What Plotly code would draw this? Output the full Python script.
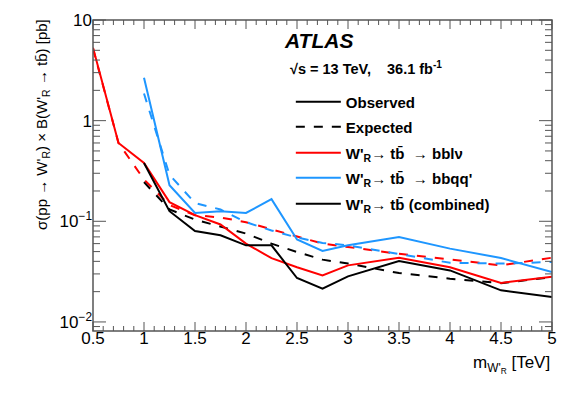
import math
import plotly.graph_objects as go

MASS = [0.5, 0.75, 1.0, 1.25, 1.5, 1.75, 2.0, 2.25, 2.5, 2.75, 3.0, 3.5, 4.0, 4.5, 5.0]
MASS_HAD = MASS[2:]

# W'R -> tb -> bblv (leptonic)
LEP_OBS = [5.3, 0.60, 0.38, 0.155, 0.115, 0.093, 0.060, 0.043, 0.035, 0.029, 0.0365, 0.0435, 0.035, 0.0244, 0.0281]
LEP_EXP = [5.2, 0.60, 0.26, 0.145, 0.115, 0.109, 0.098, 0.083, 0.071, 0.060, 0.0555, 0.0475, 0.0418, 0.0365, 0.0435]
# W'R -> tb -> bbqq' (hadronic)
HAD_OBS = [2.67, 0.228, 0.121, 0.126, 0.121, 0.166, 0.066, 0.0507, 0.0577, 0.0699, 0.0535, 0.0432, 0.0313]
HAD_EXP = [1.86, 0.29, 0.152, 0.131, 0.098, 0.081, 0.069, 0.061, 0.0577, 0.047, 0.0387, 0.038, 0.0394]
# combined
COMB_OBS = [0.38, 0.126, 0.080, 0.0726, 0.0577, 0.0577, 0.0273, 0.0214, 0.0284, 0.0403, 0.0325, 0.0206, 0.0177]
COMB_EXP = [0.245, 0.131, 0.104, 0.089, 0.0755, 0.060, 0.0495, 0.0416, 0.038, 0.0306, 0.0269, 0.0243, 0.0278]

X_RANGE = [0.5, 5]
Y_RANGE = [-2.09, 1]  # log10
Y_MAJOR = [0.01, 0.1, 1, 10]
Y_MAJOR_TXT = ['10<sup>−2</sup>', '10<sup>−1</sup>', '1', '10']
Y_MINOR = [m * 10 ** e for e in (-3, -2, -1, 0) for m in range(2, 10)]
X_MAJOR = [0.5, 1, 1.5, 2, 2.5, 3, 3.5, 4, 4.5, 5]
X_MINOR = [round(0.5 + 0.1 * i, 1) for i in range(46) if i % 5]

LEGEND_ROWS = [102, 127, 153, 178, 204]  # pixel rows of the legend entries

RED = '#ff0000'
BLUE = '#1e96ff'
BLACK = '#000000'
GREY = '#555555'
FONT = 'Liberation Sans, Arial, sans-serif'
W, H = 581, 395
ML, MR, MT, MB = 93, 29, 20, 64
PW, PH = W - ML - MR, H - MT - MB

fig = go.Figure()

# dummy legend entries
fig.add_trace(go.Scatter(x=[None], y=[None], mode='lines', name='<b>Observed</b>',
                         line=dict(color=BLACK, width=2), legend='legend'))
fig.add_trace(go.Scatter(x=[None], y=[None], mode='lines', name='<b>Expected</b>',
                         line=dict(color=BLACK, width=2, dash='dash'), legend='legend2'))

fig.add_trace(go.Scatter(x=MASS, y=LEP_EXP, mode='lines', showlegend=False,
                         line=dict(color=RED, width=2, dash='dash')))
fig.add_trace(go.Scatter(x=MASS_HAD, y=HAD_EXP, mode='lines', showlegend=False,
                         line=dict(color=BLUE, width=2, dash='dash')))
fig.add_trace(go.Scatter(x=MASS_HAD, y=COMB_EXP, mode='lines', showlegend=False,
                         line=dict(color=BLACK, width=2, dash='dash')))

fig.add_trace(go.Scatter(x=MASS, y=LEP_OBS, mode='lines', legend='legend3',
                         name="<b>W'<sub>R</sub>→ tb̄  → bblν</b>",
                         line=dict(color=RED, width=2)))
fig.add_trace(go.Scatter(x=MASS_HAD, y=HAD_OBS, mode='lines', legend='legend4',
                         name="<b>W'<sub>R</sub>→ tb̄  → bbqq'</b>",
                         line=dict(color=BLUE, width=2)))
fig.add_trace(go.Scatter(x=MASS_HAD, y=COMB_OBS, mode='lines', legend='legend5',
                         name="<b>W'<sub>R</sub>→ tb̄ (combined)</b>",
                         line=dict(color=BLACK, width=2)))

fig.update_xaxes(range=X_RANGE, tickmode='array', tickvals=X_MAJOR,
                 ticktext=[f'{v:g}' for v in X_MAJOR], ticks='', showline=False,
                 showgrid=False, zeroline=False, ticklabelstandoff=-5,
                 tickfont=dict(size=17, color='black', family=FONT))
fig.update_yaxes(type='log', range=Y_RANGE, tickmode='array', tickvals=Y_MAJOR,
                 ticktext=Y_MAJOR_TXT, ticks='', showline=False, showgrid=False,
                 zeroline=False, tickfont=dict(size=17, color='black', family=FONT))

# frame and inside ticks (mirrored) drawn as paper shapes
line_style = dict(color=GREY, width=1.5)
tick_style = dict(color=GREY, width=1)
shapes = [dict(type='rect', xref='paper', yref='paper', x0=0, x1=1, y0=0, y1=1,
               line=line_style, layer='above')]


def xfrac(v):
    return (v - X_RANGE[0]) / (X_RANGE[1] - X_RANGE[0])


def yfrac(v):
    return (math.log10(v) - Y_RANGE[0]) / (Y_RANGE[1] - Y_RANGE[0])


for vals, ln in ((X_MAJOR, 9), (X_MINOR, 5)):
    for v in vals:
        f = xfrac(v)
        shapes.append(dict(type='line', xref='paper', yref='paper', x0=f, x1=f,
                           y0=0, y1=ln / PH, line=tick_style, layer='above'))
        shapes.append(dict(type='line', xref='paper', yref='paper', x0=f, x1=f,
                           y0=1, y1=1 - ln / PH, line=tick_style, layer='above'))
for vals, ln in ((Y_MAJOR, 13), (Y_MINOR, 7)):
    for v in vals:
        f = yfrac(v)
        if f < 0 or f > 1:
            continue
        shapes.append(dict(type='line', xref='paper', yref='paper', y0=f, y1=f,
                           x0=0, x1=ln / PW, line=tick_style, layer='above'))
        shapes.append(dict(type='line', xref='paper', yref='paper', y0=f, y1=f,
                           x0=1, x1=1 - ln / PW, line=tick_style, layer='above'))

fig.add_annotation(text='<b><i>ATLAS</i></b>', xref='paper', yref='paper',
                   x=0.412, y=1 - (40 - MT) / PH, xanchor='left', yanchor='middle', showarrow=False,
                   font=dict(size=21, family=FONT, color='black'))
fig.add_annotation(text='<b>√s = 13 TeV,    36.1 fb<sup>-1</sup></b>', xref='paper', yref='paper',
                   x=0.425, y=1 - (68 - MT) / PH, xanchor='left', yanchor='middle', showarrow=False,
                   font=dict(size=14.5, family=FONT, color='black'))
fig.add_annotation(text="σ(pp → W'<sub>R</sub>) × B(W'<sub>R</sub> → tb̄) [pb]",
                   xref='paper', yref='paper', x=-0.11, y=1.01, xanchor='center', yanchor='top',
                   textangle=-90, showarrow=False, font=dict(size=15, family=FONT, color='black'))
fig.add_annotation(text="m<sub>W'<sub>R</sub></sub> [TeV]",
                   xref='paper', yref='paper', x=1.0, y=-0.065, xanchor='right', yanchor='top',
                   showarrow=False, font=dict(size=17, family=FONT, color='black'))

legend_style = dict(xanchor='left', yanchor='middle', bgcolor='rgba(0,0,0,0)', itemwidth=45,
                    font=dict(size=15, family=FONT, color='black'), x=0.431)
legends = {}
for i, row in enumerate(LEGEND_ROWS):
    key = 'legend' if i == 0 else f'legend{i + 1}'
    legends[key] = dict(y=1 - (row - MT) / PH, **legend_style)

fig.update_layout(
    width=W, height=H,
    margin=dict(l=ML, r=MR, t=MT, b=MB),
    plot_bgcolor='white', paper_bgcolor='white',
    font=dict(family=FONT, color='black'),
    shapes=shapes,
    **legends,
)

fig.write_html('out.html', config={'displayModeBar': False},
               post_script="document.body.style.margin='0';")
